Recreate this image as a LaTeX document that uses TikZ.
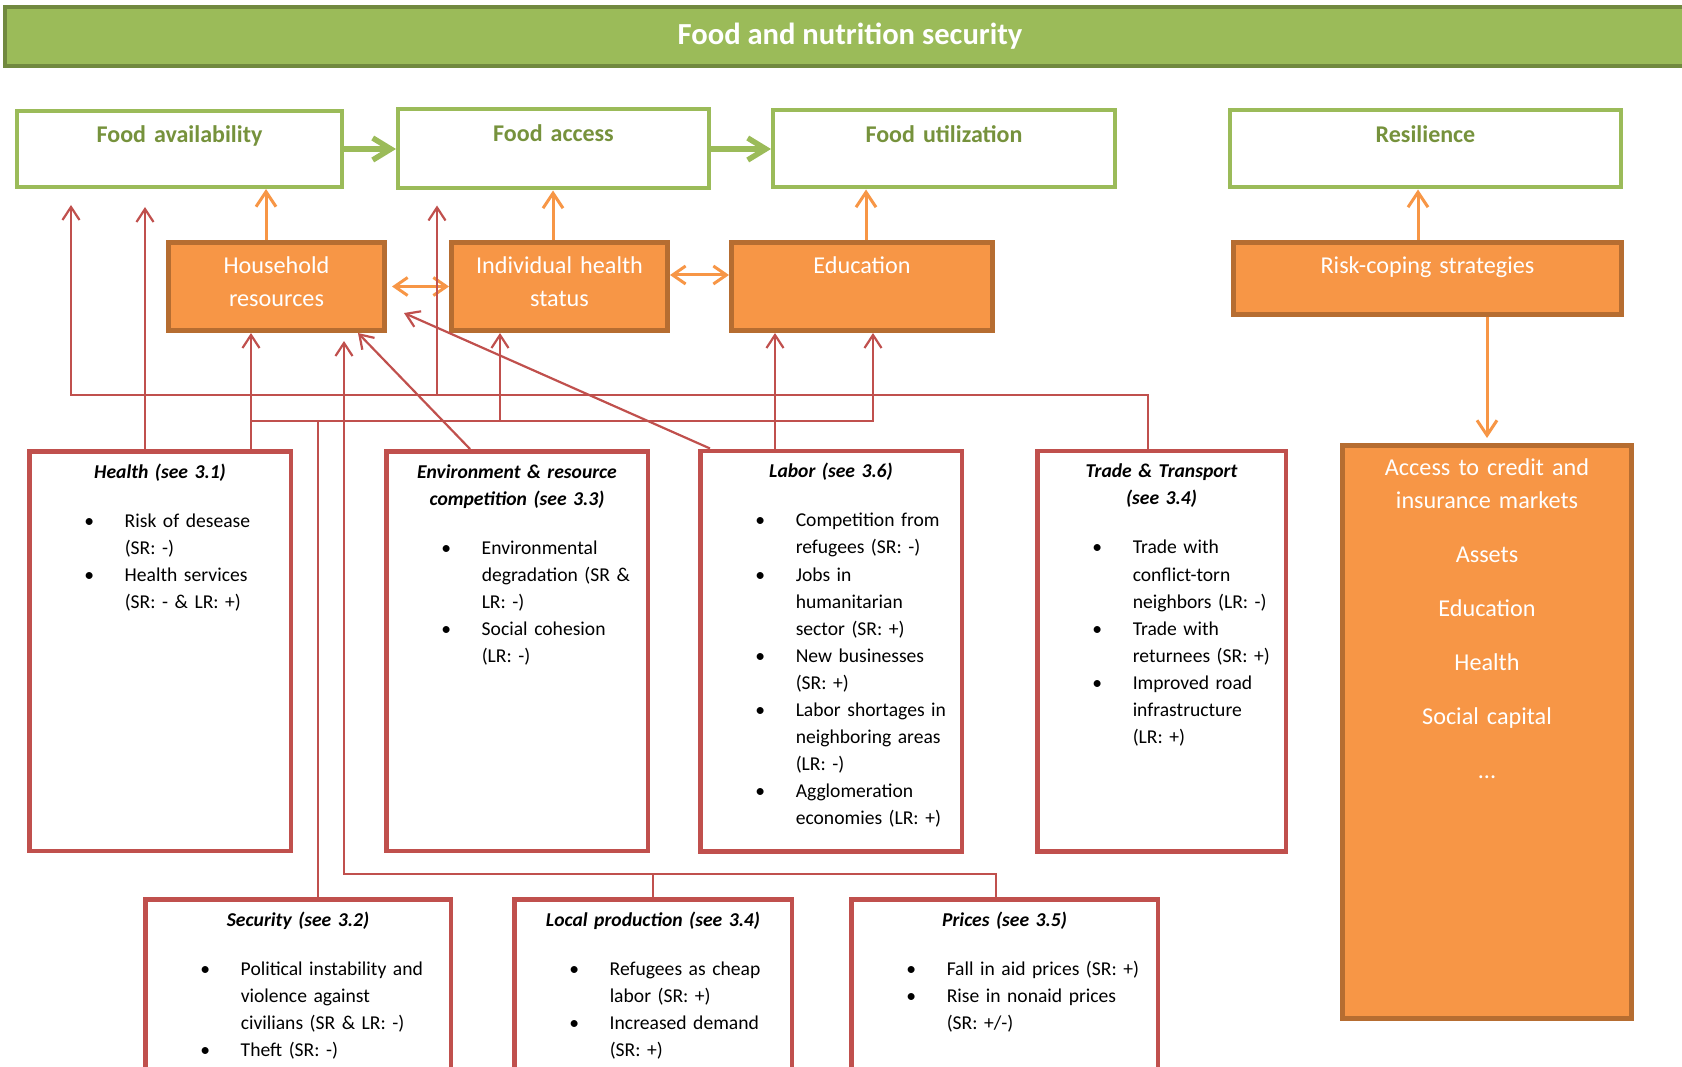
\documentclass[tikz,border=0pt]{standalone}
\usepackage{fontspec}
\setmainfont{Carlito}
\usetikzlibrary{arrows.meta,positioning}
\definecolor{green}{RGB}{155,187,89}
\definecolor{darkgreen}{RGB}{113,137,63}
\definecolor{olive}{RGB}{118,146,60}
\definecolor{orange}{RGB}{247,150,70}
\definecolor{darkorange}{RGB}{182,109,49}
\definecolor{red}{RGB}{192,80,77}
\newcommand{\ttl}[1]{\noindent\makebox[\linewidth][c]{\bfseries\itshape #1}\par}
\newcommand{\titlegap}{\vspace{22pt}}
\newcommand{\itm}[1]{\noindent\rlap{\makebox[40.5pt][l]{\textbullet}#1}\par}
\newcommand{\cnt}[1]{\noindent\rlap{\hspace*{40.5pt}#1}\par}
\tikzset{
  banner/.style={draw=darkgreen, fill=green, line width=4pt, anchor=north west, inner sep=0pt,
    text=white, font=\fontsize{30.6pt}{36pt}\selectfont\bfseries},
  pillar/.style={draw=green, fill=white, line width=4pt, anchor=north west, align=center,
    inner sep=0pt, text height=32pt, text=olive, font=\fontsize{24pt}{30pt}\selectfont\bfseries},
  channel/.style={draw=darkorange, fill=orange, line width=5pt, anchor=north west, align=center,
    inner sep=0pt, text height=31.5pt, text depth=56.5pt, text=white,
    font=\fontsize{24.2pt}{33pt}\selectfont},
  driver/.style={draw=red, fill=white, line width=4.5pt, anchor=north west, inner xsep=55pt,
    inner ysep=0pt, text height=27pt, text depth=372.5pt, font=\fontsize{19.6pt}{27.1pt}\selectfont},
  greenarrow/.style={draw=green, line width=5.5pt, -{Straight Barb[length=18pt,width=22pt]}},
  orangearrow/.style={draw=orange, line width=3pt, -{Straight Barb[length=15pt,width=20pt]}},
  orangeboth/.style={draw=orange, line width=3pt,
    {Straight Barb[length=13pt,width=18pt]}-{Straight Barb[length=13pt,width=18pt]}},
  redline/.style={draw=red, line width=2.2pt},
  redarrow/.style={redline, -{Straight Barb[length=13pt,width=17pt]}}
}

\begin{document}
\begin{tikzpicture}[x=1pt, y=-1pt]
  \useasboundingbox (0,0) rectangle (1682,1067);

  \node[banner, minimum width=1690pt, minimum height=59pt] (fns) at (3,5) {Food and nutrition security};

  % pillars of food and nutrition security
  \node[pillar, text width=325pt, text depth=44pt] (favail) at (15,109) {Food availability};
  \node[pillar, text width=311pt, text depth=47pt, right=52pt of favail] (faccess) {Food access};
  \node[pillar, text width=342pt, text depth=45pt, right=60pt of faccess] (futil) {Food utilization};
  \node[pillar, text width=391pt, text depth=45pt, right=111pt of futil] (resil) {Resilience};

  % channels
  \node[channel, text width=216pt] (household) at (166,240) {Household\\resources};
  \node[channel, text width=216pt, right=62pt of household] (indhealth) {Individual health\\status};
  \node[channel, text width=261pt, right=59pt of indhealth] (education) {Education};
  \node[channel, text width=388pt, text depth=40.5pt] (riskcoping) at (1231,240) {Risk-coping strategies};
  \node[channel, text width=289pt, text height=30pt, text depth=543pt] (access) at (1340,443) {Access to credit and\\insurance markets\\[21pt]Assets\\[21pt]Education\\[21pt]Health\\[21pt]Social capital\\[21pt]...};

  % drivers
  \node[driver, text width=151.5pt] (health) at (27,449) {%
    \ttl{Health (see 3.1)}\titlegap
    \itm{Risk of desease}\cnt{(SR: -)}
    \itm{Health services}\cnt{(SR: - \& LR: +)}};
  \node[driver, text width=151.5pt, right=91pt of health] (environment) {%
    \ttl{Environment \& resource}\ttl{competition (see 3.3)}\titlegap
    \itm{Environmental}\cnt{degradation (SR \&}\cnt{LR: -)}
    \itm{Social cohesion}\cnt{(LR: -)}};
  \node[driver, text width=151.5pt, text depth=373.5pt, right=48pt of environment] (labor) {%
    \ttl{Labor (see 3.6)}\titlegap
    \itm{Competition from}\cnt{refugees (SR: -)}
    \itm{Jobs in}\cnt{humanitarian}\cnt{sector (SR: +)}
    \itm{New businesses}\cnt{(SR: +)}
    \itm{Labor shortages in}\cnt{neighboring areas}\cnt{(LR: -)}
    \itm{Agglomeration}\cnt{economies (LR: +)}};
  \node[driver, text width=138.5pt, text depth=373.5pt, right=71pt of labor] (trade) {%
    \ttl{Trade \& Transport}\ttl{(see 3.4)}\titlegap
    \itm{Trade with}\cnt{conflict-torn}\cnt{neighbors (LR: -)}
    \itm{Trade with}\cnt{returnees (SR: +)}
    \itm{Improved road}\cnt{infrastructure}\cnt{(LR: +)}};
  \node[driver, text width=195.5pt, text depth=151.5pt] (security) at (143,897) {%
    \ttl{Security (see 3.2)}\titlegap
    \itm{Political instability and}\cnt{violence against}\cnt{civilians (SR \& LR: -)}
    \itm{Theft (SR: -)}};
  \node[driver, text width=167.5pt, text depth=151.5pt, right=59pt of security] (localprod) {%
    \ttl{Local production (see 3.4)}\titlegap
    \itm{Refugees as cheap}\cnt{labor (SR: +)}
    \itm{Increased demand}\cnt{(SR: +)}};
  \node[driver, text width=196.5pt, text depth=151.5pt, right=55pt of localprod] (prices) {%
    \ttl{Prices (see 3.5)}\titlegap
    \itm{Fall in aid prices (SR: +)}
    \itm{Rise in nonaid prices}\cnt{(SR: +/-)}};

  % green and orange links
  \draw[greenarrow] (favail.east) -- (favail.east -| faccess.west);
  \draw[greenarrow] (faccess.east) -- (faccess.east -| futil.west);
  \draw[orangearrow] ([xshift=-10.5pt]household.north) coordinate (hhtop) -- (hhtop |- favail.south);
  \draw[orangearrow] ([xshift=-6.5pt]indhealth.north) coordinate (ihtop) -- (ihtop |- faccess.south);
  \draw[orangearrow] ([xshift=4pt]education.north) coordinate (edtop) -- (edtop |- futil.south);
  \draw[orangearrow] ([xshift=-9.5pt]riskcoping.north) coordinate (rctop) -- (rctop |- resil.south);
  \draw[orangearrow, shorten >=5pt] (access.north |- riskcoping.south) -- (access.north);
  \draw[orangeboth, shorten <=5pt] (household.east) -- (indhealth.west);
  \draw[orangeboth] ([yshift=11.5pt]indhealth.east) coordinate (ihright) -- (ihright -| education.west);

  % red links from the drivers
  \coordinate (tradebus) at (71,395);
  \coordinate (healthbus) at (251,421);
  \coordinate (pricebus) at (344,874);
  \coordinate (accessin) at ([xshift=41pt]faccess.south west);
  \coordinate (indin) at ([xshift=-59.5pt]indhealth.south);
  \draw[redarrow, shorten >=16pt] ([xshift=-13.5pt]trade.north) |- (tradebus) -- (tradebus |- favail.south);
  \draw[redarrow, shorten >=15pt] (accessin |- tradebus) -- (accessin);
  \draw[redarrow, shorten >=18pt] ([xshift=-15pt]health.north) coordinate (hlup) -- (hlup |- favail.south);
  \draw[redarrow] (healthbus |- health.north) -- (healthbus |- household.south);
  \draw[redarrow] (healthbus) -| ([xshift=11pt]education.south);
  \draw[redarrow] (indin |- healthbus) -- (indin);
  \draw[redline] ([xshift=20pt]security.north) coordinate (scup) -- (scup |- healthbus);
  \draw[redarrow] ([xshift=-47pt]environment.north) -- ([xshift=-29pt]household.south east);
  \draw[redarrow] ([xshift=12pt]labor.north west) -- ([xshift=17pt,yshift=20pt]household.south east);
  \draw[redarrow] ([xshift=-56pt]labor.north) coordinate (lbup) -- (lbup |- education.south);
  \draw[redarrow, shorten >=8pt] ([xshift=-8.5pt]prices.north) |- (pricebus) -- (pricebus |- household.south);
  \draw[redline] (localprod.north) -- (localprod.north |- pricebus);
\end{tikzpicture}
\end{document}
